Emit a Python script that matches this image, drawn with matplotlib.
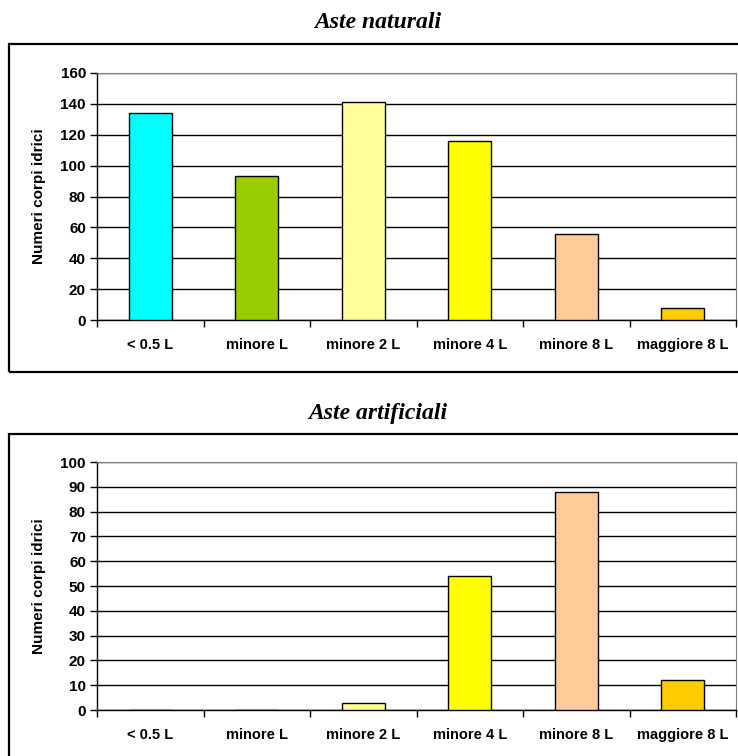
import numpy as np
import matplotlib.pyplot as plt
from matplotlib.patches import Rectangle

categories = ["< 0.5 L", "minore L", "minore 2 L", "minore 4 L", "minore 8 L", "maggiore 8 L"]
naturali = [134, 93, 141, 116, 56, 8]
artificiali = [0, 0, 3, 54, 88, 12]
colors = ["#00FFFF", "#99CC00", "#FFFF99", "#FFFF00", "#FFCC99", "#FFCC00"]

W, H = 738, 756
plt.rcParams["font.family"] = ["Liberation Sans", "DejaVu Sans"]

fig = plt.figure(figsize=(W / 100, H / 100), dpi=100)


def px_rect(left, top, right, bottom):
    return [left / W, 1 - bottom / H, (right - left) / W, (bottom - top) / H]


def draw_panel(rect, values, ymax, step, title, title_y, box):
    # outer frame around the chart area
    bl, bt, br, bb = box
    fig.patches.append(Rectangle((bl / W, 1 - bb / H), (br - bl) / W, (bb - bt) / H,
                                 transform=fig.transFigure, fill=False,
                                 edgecolor="black", linewidth=1.6))
    fig.text(378 / W, 1 - title_y / H, title, ha="center", va="center",
             family="Liberation Serif", fontweight="bold", fontstyle="italic",
             fontsize=17)

    ax = fig.add_axes(rect)
    x = np.arange(len(values))
    ax.bar(x, values, width=0.4, color=colors, edgecolor="black", linewidth=1.0, zorder=3)
    ax.set_xlim(-0.5, len(values) - 0.5)
    ax.set_ylim(0, ymax)
    ax.set_yticks(np.arange(0, ymax + 1, step))
    ax.yaxis.grid(True, color="black", linewidth=1.0, zorder=0)
    ax.set_axisbelow(True)

    ax.set_xticks(np.arange(-0.5, len(values)), minor=False)
    ax.set_xticklabels([])
    ax.set_xticks(x, minor=True)
    ax.set_xticklabels(categories, minor=True, fontsize=10.5, fontweight="bold")
    ax.tick_params(axis="x", which="major", direction="out", length=5, width=1)
    ax.tick_params(axis="x", which="minor", length=0, pad=13)
    ax.tick_params(axis="y", direction="out", length=5, width=1, labelsize=11, pad=3)
    for lab in ax.get_yticklabels():
        lab.set_fontweight("bold")

    ax.set_ylabel("Numeri corpi idrici", fontsize=11, fontweight="bold", labelpad=10)
    ax.spines["top"].set_color("#808080")
    ax.spines["right"].set_color("#808080")
    ax.spines["left"].set_linewidth(1.0)
    ax.spines["bottom"].set_linewidth(1.0)
    return ax


draw_panel(px_rect(97, 73, 736, 320), naturali, 160, 20, "Aste naturali", 23,
           (9, 44, 760, 372))
draw_panel(px_rect(97, 462, 736, 710), artificiali, 100, 10, "Aste artificiali", 413,
           (9, 434, 760, 790))

fig.savefig("out.png", dpi=100)
